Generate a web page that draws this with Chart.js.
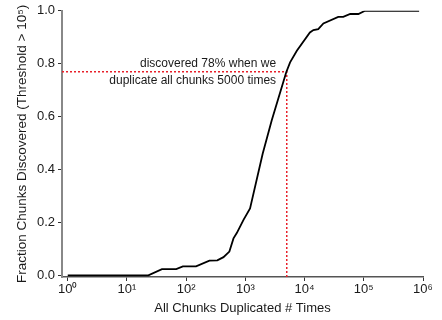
<!DOCTYPE html>
<html>
<head>
<meta charset="utf-8">
<script src="https://cdn.jsdelivr.net/npm/chart.js@4.4.0/dist/chart.umd.min.js"></script>
<style>
  html, body { margin: 0; padding: 0; background: #fff; }
  #wrap { width: 442px; height: 320px; }
</style>
</head>
<body>
<div id="wrap"><canvas id="chart" width="442" height="320"></canvas></div>
<script>
// values
const dupTimes = [1, 23, 39, 68, 88, 147, 247, 336, 427, 537, 630, 716, 930, 1200, 1960, 2790, 4900, 5690, 7400, 12300, 14100, 17000, 20800, 37000, 45000, 59000, 81000, 105000, 860000];
const fracFound = [0, 0, 0.024, 0.024, 0.034, 0.034, 0.056, 0.057, 0.069, 0.09, 0.14, 0.16, 0.21, 0.253, 0.46, 0.586, 0.768, 0.805, 0.849, 0.918, 0.927, 0.931, 0.952, 0.977, 0.977, 0.988, 0.988, 1.0, 1.0];

const markX = 5000;
const markY = 0.77;

const xTicks = [1, 10, 100, 1000, 10000, 100000, 1000000];
const yTicks = [0, 0.2, 0.4, 0.6, 0.8, 1.0];
const noteLines = ["discovered 78% when we", "duplicate all chunks 5000 times"];

const xMin = 0.8, xMax = 1e6;
const yMin = -0.006, yMax = 1.0;

const sup = ["\u2070", "\u00b9", "\u00b2", "\u00b3", "\u2074", "\u2075", "\u2076"];
const FONT = "'Liberation Sans', Arial, Helvetica, sans-serif";

const notePlugin = {
  id: "note",
  afterDatasetsDraw(chart) {
    const { ctx, scales: { x, y } } = chart;
    ctx.save();
    ctx.font = "12px " + FONT;
    ctx.fillStyle = "#1a1a1a";
    ctx.textAlign = "right";
    ctx.textBaseline = "middle";
    const px = x.getPixelForValue(3300);
    ctx.fillText(noteLines[0], px, y.getPixelForValue(0.800));
    ctx.fillText(noteLines[1], px, y.getPixelForValue(0.736));
    ctx.restore();
  }
};

new Chart(document.getElementById("chart"), {
  type: "line",
  data: {
    datasets: [
      {
        data: dupTimes.map((v, i) => ({ x: v, y: fracFound[i] })),
        borderColor: "#000",
        borderWidth: 1.8,
        pointRadius: 0,
        tension: 0,
        fill: false,
      },
      {
        data: [
          { x: xMin, y: markY },
          { x: markX, y: markY },
          { x: markX, y: yMin },
        ],
        borderColor: "#e8202a",
        borderWidth: 1.5,
        borderDash: [2, 2],
        pointRadius: 0,
        tension: 0,
        fill: false,
      },
    ],
  },
  options: {
    responsive: false,
    animation: false,
    layout: { padding: { left: 0, right: 19, top: 10, bottom: 0 } },
    plugins: { legend: { display: false }, tooltip: { enabled: false } },
    scales: {
      x: {
        type: "logarithmic",
        min: xMin,
        max: xMax,
        afterBuildTicks: (s) => { s.ticks = xTicks.map((v) => ({ value: v })); },
        afterFit: (s) => { s.height = 43; },
        border: { color: "#555", width: 1.5 },
        grid: { drawOnChartArea: false, drawTicks: true, tickLength: 4, color: "#333" },
        ticks: {
          autoSkip: false,
          maxRotation: 0,
          padding: 1,
          color: "#1a1a1a",
          font: { family: FONT, size: 13 },
          callback: (v) => "10" + sup[Math.round(Math.log10(v))],
        },
        title: {
          display: true,
          text: "All Chunks Duplicated # Times",
          color: "#1a1a1a",
          font: { family: FONT, size: 13 },
          padding: { top: 0, bottom: 4 },
        },
      },
      y: {
        min: yMin,
        max: yMax,
        afterBuildTicks: (s) => { s.ticks = yTicks.map((v) => ({ value: v })); },
        afterFit: (s) => { s.width = 62; },
        border: { color: "#888", width: 2 },
        grid: { drawOnChartArea: false, drawTicks: true, tickLength: 4, color: "#333" },
        ticks: {
          padding: 3,
          color: "#1a1a1a",
          font: { family: FONT, size: 13 },
          callback: (v) => v.toFixed(1),
        },
        title: {
          display: true,
          text: "Fraction Chunks Discovered (Threshold > 10\u2075)",
          color: "#1a1a1a",
          font: { family: FONT, size: 13.5 },
          padding: { top: 14, bottom: 0 },
        },
      },
    },
  },
  plugins: [notePlugin],
});
</script>
</body>
</html>
